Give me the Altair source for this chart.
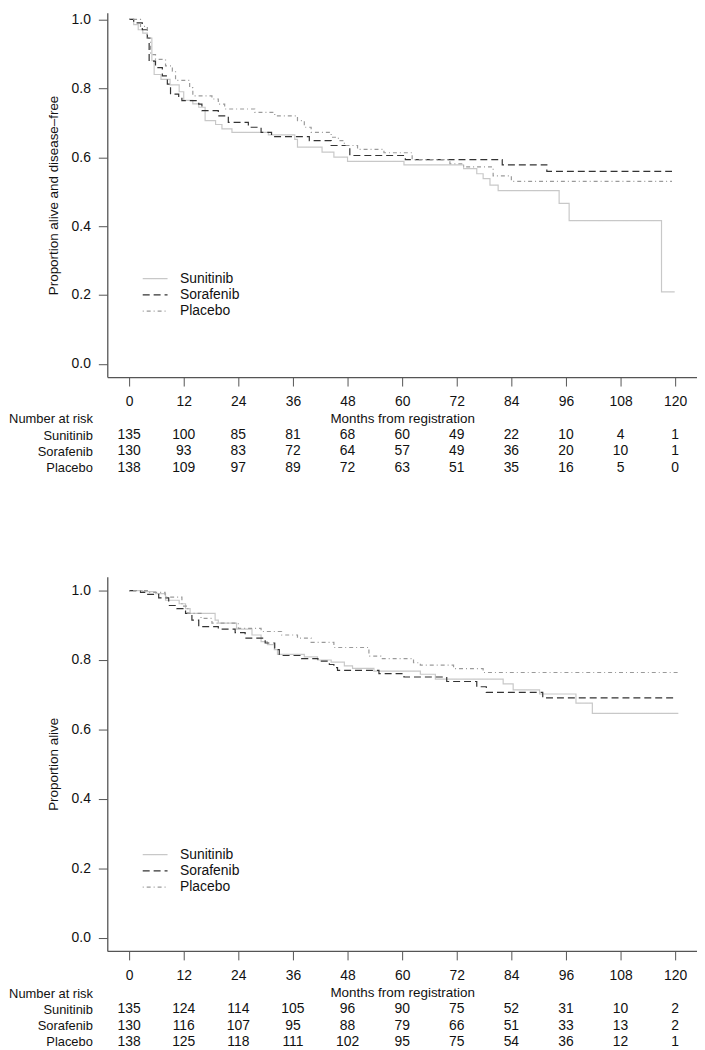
import altair as alt
import pandas as pd

groups = ["Sunitinib", "Sorafenib", "Placebo"]
row_labels = ["Number at risk", "Sunitinib", "Sorafenib", "Placebo"]
tick_months = [0, 12, 24, 36, 48, 60, 72, 84, 96, 108, 120]

# ---- Panel 1: disease-free survival (step curves) ----
dfs_sun_t = [0, 1, 2, 3, 4, 5, 5.5, 7, 9, 11, 12, 14, 15.3, 16.7, 19, 20.4, 22.6, 30.6, 36.4, 37, 42.4, 45, 48, 60.4, 73.5, 76.4, 77.8, 79.3, 81.1, 94.5, 96.7, 117, 119.9]
dfs_sun_s = [1.0, 0.985, 0.97, 0.96, 0.946, 0.88, 0.84, 0.826, 0.81, 0.79, 0.765, 0.755, 0.745, 0.706, 0.695, 0.682, 0.672, 0.665, 0.652, 0.629, 0.615, 0.60, 0.588, 0.578, 0.567, 0.552, 0.538, 0.519, 0.503, 0.466, 0.416, 0.209, 0.209]
dfs_sor_t = [0, 1, 2.9, 4, 4.4, 5.8, 7.3, 8.4, 9.1, 10.9, 11.6, 15.3, 16, 19.6, 21.8, 26.2, 29, 31.3, 39.6, 44.4, 48.5, 60.7, 82, 91.8, 119.3]
dfs_sor_s = [1.0, 0.99, 0.97, 0.946, 0.879, 0.86, 0.836, 0.812, 0.783, 0.773, 0.764, 0.754, 0.735, 0.72, 0.701, 0.687, 0.672, 0.66, 0.648, 0.634, 0.605, 0.593, 0.578, 0.559, 0.559]
dfs_pla_t = [0, 2.5, 4, 4.7, 5.8, 8, 9.5, 10.2, 13.3, 14, 18.2, 19.6, 21, 27.6, 32, 37, 38.5, 40, 44.4, 46, 47.3, 50.2, 56, 62.2, 70.5, 73.5, 80, 84, 119.3]
dfs_pla_s = [1.0, 0.98, 0.946, 0.898, 0.884, 0.865, 0.85, 0.823, 0.802, 0.778, 0.769, 0.754, 0.74, 0.73, 0.72, 0.706, 0.687, 0.672, 0.658, 0.648, 0.634, 0.623, 0.613, 0.593, 0.581, 0.572, 0.546, 0.53, 0.53]

dfs_risk_sun = [135, 100, 85, 81, 68, 60, 49, 22, 10, 4, 1]
dfs_risk_sor = [130, 93, 83, 72, 64, 57, 49, 36, 20, 10, 1]
dfs_risk_pla = [138, 109, 97, 89, 72, 63, 51, 35, 16, 5, 0]

# ---- Panel 2: overall survival ----
os_sun_t = [0, 3, 5.8, 8, 11, 12.4, 13.4, 18.9, 19.6, 23.6, 27, 29, 30.4, 31.9, 32.6, 38.5, 41.4, 44.4, 47.3, 49.1, 53.8, 64, 67.3, 82.2, 84.4, 90.2, 98.2, 101.8, 120.7]
os_sun_s = [1.0, 0.997, 0.991, 0.972, 0.962, 0.948, 0.934, 0.915, 0.906, 0.889, 0.872, 0.853, 0.844, 0.83, 0.816, 0.809, 0.80, 0.794, 0.783, 0.776, 0.768, 0.759, 0.745, 0.731, 0.714, 0.702, 0.676, 0.646, 0.646]
os_sor_t = [0, 2.5, 3.6, 6.5, 8.7, 10.5, 12.4, 13.8, 15.3, 19.6, 23.3, 25.5, 29.9, 32, 33, 33.5, 37.9, 41.5, 44, 45, 45.8, 54.9, 60.4, 69.8, 76.4, 78.5, 90.9, 120]
os_sor_s = [1.0, 0.995, 0.989, 0.979, 0.957, 0.948, 0.934, 0.915, 0.896, 0.889, 0.879, 0.863, 0.849, 0.83, 0.816, 0.813, 0.804, 0.797, 0.787, 0.778, 0.770, 0.761, 0.751, 0.738, 0.723, 0.707, 0.691, 0.691]
os_pla_t = [0, 4, 7.9, 11.6, 12.9, 15.8, 18.2, 24, 29, 33.5, 37, 40, 45, 52.7, 55.3, 62.5, 64, 71.3, 77.8, 120.7]
os_pla_s = [1.0, 0.995, 0.981, 0.955, 0.934, 0.92, 0.906, 0.891, 0.882, 0.872, 0.863, 0.851, 0.836, 0.811, 0.804, 0.792, 0.785, 0.775, 0.764, 0.764]

os_risk_sun = [135, 124, 114, 105, 96, 90, 75, 52, 31, 10, 2]
os_risk_sor = [130, 116, 107, 95, 88, 79, 66, 51, 33, 13, 2]
os_risk_pla = [138, 125, 118, 111, 102, 95, 75, 54, 36, 12, 1]

line_colors = ["#c8c8c8", "#333333", "#9a9a9a"]
line_dashes = [[1, 0], [7, 4], [1, 3, 4, 3]]
TXT = "#111111"
AX = "#555555"
FONT = "Liberation Sans"
x_domain = [-4.8, 124.8]


def curves(series):
    rows = []
    for g, (ts, ss) in zip(groups, series):
        for t, s in zip(ts, ss):
            rows.append({"group": g, "month": t, "surv": s})
    return pd.DataFrame(rows)


def risk(series):
    rows = []
    for g, ns in zip(groups, series):
        for m, n in zip(tick_months, ns):
            rows.append({"row": g, "month": m, "n": n})
    return pd.DataFrame(rows)


def km_chart(df, ytitle, ydomain, height, legend_y):
    leg = alt.Legend(title=None, orient="none", legendX=41.2, legendY=legend_y,
                     symbolType="M-2.5,0L2.5,0", symbolSize=100, symbolStrokeWidth=1.2,
                     labelFontSize=14, labelOffset=18, rowPadding=2.4, labelColor=TXT,
                     labelFont=FONT)
    return alt.Chart(df).mark_line(interpolate="step-after", strokeWidth=1.2).encode(
        x=alt.X("month:Q", scale=alt.Scale(domain=x_domain, nice=False, zero=False),
                axis=alt.Axis(values=tick_months, title="Months from registration", grid=False,
                              tickSize=9, labelPadding=9, labelFontSize=14, labelAngle=0,
                              labelFlush=False, titleFontSize=13.5, titleFontWeight="normal",
                              titleY=34.5, titleBaseline="top", domainColor=AX, tickColor=AX,
                              domainWidth=1.3, labelColor=TXT, titleColor=TXT)),
        y=alt.Y("surv:Q", scale=alt.Scale(domain=ydomain, nice=False, zero=False),
                axis=alt.Axis(values=[0, 0.2, 0.4, 0.6, 0.8, 1.0], format=".1f", title=ytitle,
                              grid=False, tickSize=9, labelPadding=8, labelFontSize=14,
                              titleFontSize=13.5, titleFontWeight="normal", titlePadding=11,
                              domainColor=AX, tickColor=AX, domainWidth=1.3,
                              labelColor=TXT, titleColor=TXT)),
        color=alt.Color("group:N", scale=alt.Scale(domain=groups, range=line_colors), legend=leg),
        strokeDash=alt.StrokeDash("group:N", scale=alt.Scale(domain=groups, range=line_dashes), legend=leg),
        order=alt.Order("month:Q"),
    ).properties(width=594, height=height)


def table_chart(df, height, rng):
    return alt.Chart(df).mark_text(fontSize=14, color=TXT, font=FONT).encode(
        x=alt.X("month:Q", scale=alt.Scale(domain=x_domain, nice=False, zero=False), axis=None),
        y=alt.Y("row:N", scale=alt.Scale(type="point", domain=row_labels, range=rng, padding=0.5),
                axis=alt.Axis(title=None, domain=False, ticks=False, labelPadding=15,
                              labelFontSize=13, labelAlign="right", labelColor=TXT, labelFont=FONT)),
        text="n:Q",
    ).properties(width=594, height=height)


km1 = km_chart(curves([(dfs_sun_t, dfs_sun_s), (dfs_sor_t, dfs_sor_s), (dfs_pla_t, dfs_pla_s)]),
               "Proportion alive and disease\u2013free", [-0.0383, 1.0193], 367, 260.8)
tb1 = table_chart(risk([dfs_risk_sun, dfs_risk_sor, dfs_risk_pla]), 201, [33.8, 99.4])
km2 = km_chart(curves([(os_sun_t, os_sun_s), (os_sor_t, os_sor_s), (os_pla_t, os_pla_s)]),
               "Proportion alive", [-0.038, 1.04], 377, 273)
tb2 = table_chart(risk([os_risk_sun, os_risk_sor, os_risk_pla]), 99, [34.2, 99.8])

chart = alt.vconcat(km1, tb1, km2, tb2, spacing=0, bounds="flush", padding=0).resolve_scale(
    color="independent", strokeDash="independent", y="independent"
).configure(font=FONT).configure_view(stroke=None)

chart.save("out.html", embed_options={"renderer": "svg", "actions": False})
